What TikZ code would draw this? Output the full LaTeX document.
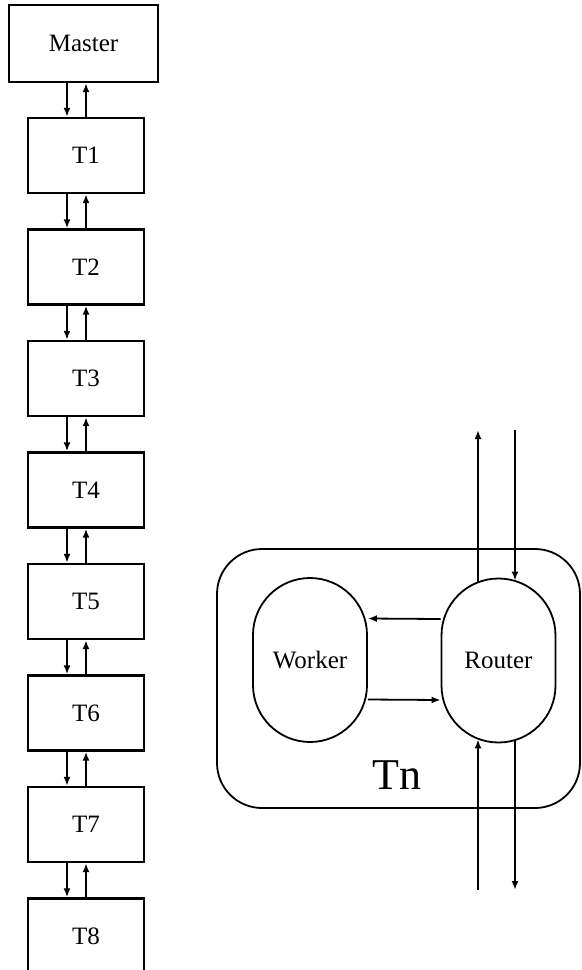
\documentclass[tikz,border=0pt]{standalone}
\usepackage{fontspec}
\setmainfont{Liberation Serif}
\usetikzlibrary{arrows.meta}
\begin{document}
\begin{tikzpicture}[x=0.5pt,y=-0.5pt,every node/.style={font=\fontsize{12.5}{14}\selectfont},
  >={Latex[length=4.5pt,width=3.5pt]},
  box/.style={draw,line width=1.2pt,rectangle,minimum width=58pt,minimum height=37.5pt,inner sep=0pt},
  blob/.style={draw,line width=0.9pt,rectangle,rounded corners=28.5pt,minimum width=57pt,minimum height=82pt,inner sep=0pt},
  link/.style={->,line width=0.9pt}]
\useasboundingbox (0,0) rectangle (582,970);
% left column
\node[box,minimum width=74.5pt,minimum height=38.5pt] (m) at (83.5,43.5) {Master};
\foreach \i in {1,...,8}
  \node[box] (t\i) at (86,{155.5+(\i-1)*111.5}) {T\i};
\coordinate (dn) at (67,0);
\coordinate (up) at (86,0);
\draw[link] (m.south -| dn) -- (t1.north -| dn);
\draw[link] (t1.north -| up) -- (m.south -| up);
\foreach \i [count=\j from 2] in {1,...,7} {
  \draw[link] (t\i.south -| dn) -- (t\j.north -| dn);
  \draw[link] (t\j.north -| up) -- (t\i.south -| up);
}
% node Tn
\node[draw,line width=0.9pt,rectangle,rounded corners=22.5pt,minimum width=181.5pt,minimum height=129.5pt] (tn) at (398.5,678.5) {};
\node[font=\fontsize{22}{24}\selectfont] (tnlab) at (397,775) {Tn};
\node[blob] (wk) at (310,660) {Worker};
\node[blob] (rt) at (498.5,660.5) {Router};
\draw[link] ([yshift=20.75pt]rt.west) -- ([yshift=20.75pt]wk.east);
\draw[link] ([yshift=-19.75pt]wk.east) -- ([yshift=-19.75pt]rt.west);
\coordinate (ra) at (478,430);
\coordinate (rb) at (515,430);
\coordinate (rc) at (478,890);
\coordinate (rd) at (515,890);
\draw[link] ([xshift=-10.25pt,yshift=-2pt]rt.north) -- (ra);
\draw[link] (rb) -- ([xshift=8.25pt,yshift=-1.5pt]rt.north);
\draw[link] (rc) -- ([xshift=-10.25pt,yshift=2pt]rt.south);
\draw[link] ([xshift=8.25pt,yshift=1.5pt]rt.south) -- (rd);
\end{tikzpicture}
\end{document}
